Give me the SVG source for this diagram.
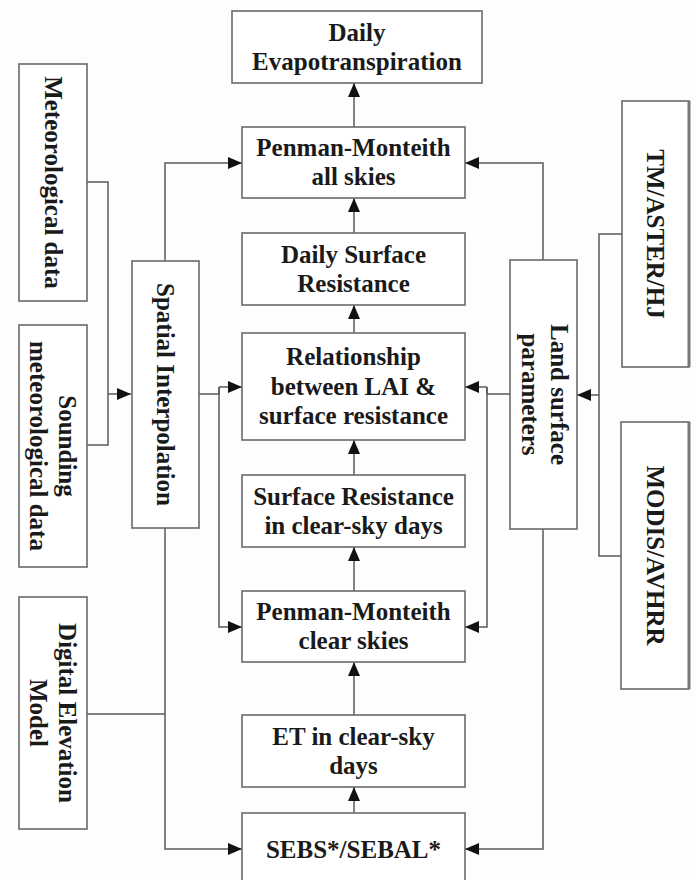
<svg xmlns="http://www.w3.org/2000/svg" width="696" height="880" viewBox="0 0 696 880">
<defs>
<marker id="ah" markerUnits="userSpaceOnUse" markerWidth="14" markerHeight="12" refX="14" refY="6" orient="auto">
<path d="M0,0 L14,6 L0,12 Z" fill="#111"/>
</marker>
<style>
.box{fill:#fff;stroke:#6a6a6a;stroke-width:1.6}
.t{font-family:"Liberation Serif","Times New Roman",serif;font-weight:bold;font-size:25px;fill:#1a1a1a;text-anchor:middle}
.c{fill:none;stroke:#5a5a5a;stroke-width:1.5}
.a{fill:none;stroke:#5a5a5a;stroke-width:1.5;marker-end:url(#ah)}
.sh{stroke:#777;stroke-width:3}
</style>
</defs>
<rect width="696" height="880" fill="#fdfdfd"/>

<g id="connectors">
<!-- center chain -->
<path class="a" d="M354,127 V83"/>
<path class="a" d="M354,233 V198"/>
<path class="a" d="M354,333 V305"/>
<path class="a" d="M354,475 V440"/>
<path class="a" d="M354,591 V547"/>
<path class="a" d="M354,715 V662"/>
<path class="a" d="M354,813 V787"/>
<!-- left inputs -->
<path class="c" d="M87,182 H108 V445 H87"/>
<path class="a" d="M108,394 H131"/>
<path class="a" d="M165,261 V163 H242"/>
<path class="c" d="M199,394 H219 V387"/>
<path class="a" d="M219,387 H242"/>
<path class="a" d="M219,387 V627 H242"/>
<path class="a" d="M165,528 V849 H242"/>
<path class="c" d="M87,714 H165"/>
<!-- right inputs -->
<path class="c" d="M622,234 H599 V556 H621"/>
<path class="a" d="M599,395 H577"/>
<path class="a" d="M543,260 V163 H465"/>
<path class="c" d="M510,394 H487 V387"/>
<path class="a" d="M487,387 H465"/>
<path class="a" d="M487,387 V627 H465"/>
<path class="a" d="M543,529 V849 H465"/>
</g>

<g id="daily-et">
<rect class="box" x="232" y="11" width="250" height="72"/>
<text class="t" x="357" y="41">Daily</text>
<text class="t" x="357" y="70">Evapotranspiration</text>
</g>
<g id="pm-all">
<rect class="box" x="242" y="127" width="223" height="71"/>
<text class="t" x="353.5" y="156">Penman-Monteith</text>
<text class="t" x="353.5" y="185">all skies</text>
</g>
<g id="daily-sr">
<rect class="box" x="242" y="233" width="223" height="72"/>
<text class="t" x="353.5" y="263">Daily Surface</text>
<text class="t" x="353.5" y="292">Resistance</text>
</g>
<g id="relationship">
<rect class="box" x="242" y="333" width="223" height="107"/>
<text class="t" x="353.5" y="365">Relationship</text>
<text class="t" x="353.5" y="395">between LAI &amp;</text>
<text class="t" x="353.5" y="424">surface resistance</text>
</g>
<g id="sr-clear">
<rect class="box" x="242" y="475" width="223" height="72"/>
<text class="t" x="353.5" y="505">Surface Resistance</text>
<text class="t" x="353.5" y="534">in clear-sky days</text>
</g>
<g id="pm-clear">
<rect class="box" x="242" y="591" width="223" height="71"/>
<text class="t" x="353.5" y="620">Penman-Monteith</text>
<text class="t" x="353.5" y="649">clear skies</text>
</g>
<g id="et-clear">
<rect class="box" x="242" y="715" width="223" height="72"/>
<text class="t" x="353.5" y="745">ET in clear-sky</text>
<text class="t" x="353.5" y="774">days</text>
</g>
<g id="sebs">
<rect class="box" x="242" y="813" width="223" height="72"/>
<text class="t" x="353.5" y="857.5">SEBS*/SEBAL*</text>
</g>

<g id="met-data">
<rect class="box" x="19" y="64" width="68" height="237"/>
<text class="t" transform="rotate(90 53 182.5)" x="53" y="191">Meteorological data</text>
</g>
<g id="sounding">
<rect class="box" x="19" y="325" width="68" height="242"/>
<text class="t" transform="rotate(90 53 446)" x="53" y="440">Sounding</text>
<text class="t" transform="rotate(90 53 446)" x="53" y="469">meteorological data</text>
</g>
<g id="dem">
<rect class="box" x="19" y="597" width="68" height="232"/>
<text class="t" transform="rotate(90 53 713)" x="53" y="707">Digital Elevation</text>
<text class="t" transform="rotate(90 53 713)" x="53" y="736">Model</text>
</g>
<g id="spatial">
<rect class="box" x="132" y="261" width="67" height="267"/>
<text class="t" transform="rotate(90 165.5 394.5)" x="165.5" y="403">Spatial Interpolation</text>
</g>
<g id="land">
<rect class="box" x="510" y="260" width="67" height="269"/>
<text class="t" transform="rotate(90 545 394.5)" x="545" y="388.5">Land surface</text>
<text class="t" transform="rotate(90 545 394.5)" x="545" y="417.5">parameters</text>
</g>
<g id="tm">
<rect class="box" x="622" y="101" width="67" height="266"/>
<line class="sh" x1="689" y1="101" x2="689" y2="367"/>
<text class="t" transform="rotate(90 655.5 234)" x="655.5" y="242.5">TM/ASTER/HJ</text>
</g>
<g id="modis">
<rect class="box" x="621" y="422" width="68" height="267"/>
<line class="sh" x1="689" y1="422" x2="689" y2="689"/>
<text class="t" transform="rotate(90 655 555.5)" x="655" y="564">MODIS/AVHRR</text>
</g>
</svg>
